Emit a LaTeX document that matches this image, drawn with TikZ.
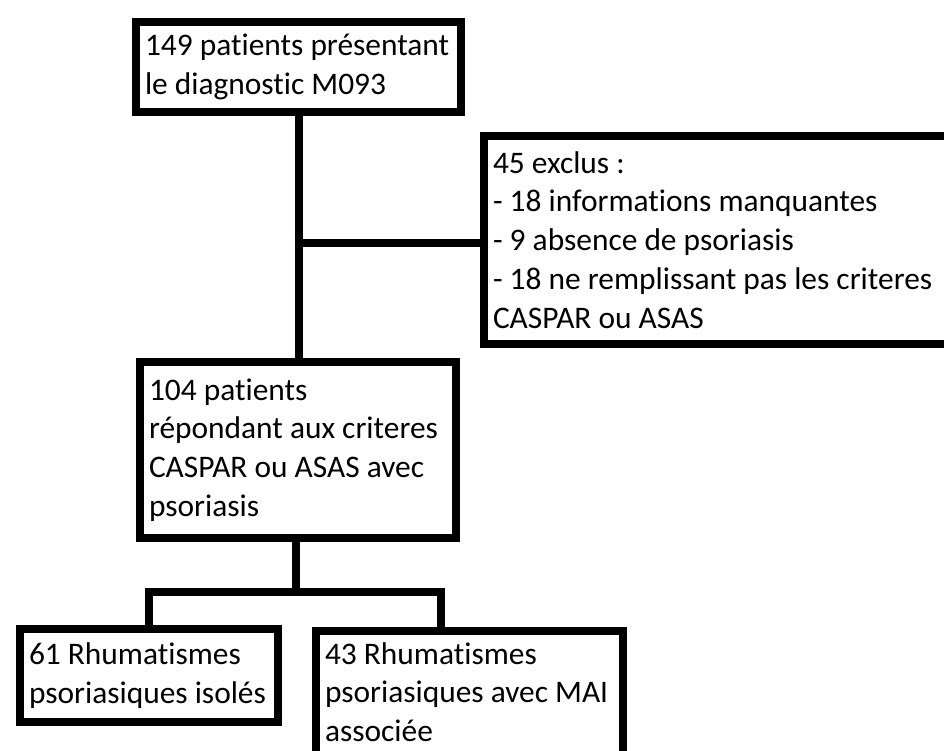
\documentclass[tikz,border=0pt]{standalone}
\usepackage{fontspec}
\setmainfont{Carlito}[Ligatures=NoCommon]
\tikzset{
  box/.style={draw, line width=8pt, anchor=north west, align=flush left,
    inner xsep=9pt, inner ysep=4pt,
    font=\fontsize{31.4}{38.8}\selectfont},
  link/.style={line width=8pt}
}
\begin{document}
\begin{tikzpicture}[x=1pt,y=-1pt]
  \useasboundingbox (0,0) rectangle (944,751);
  \clip (0,0) rectangle (944,751);
  \node[box, text width=307pt, minimum height=90pt] (diag) at (132,18)
    {149 patients présentant\\le diagnostic M093};
  \node[box, text width=480pt, minimum height=208pt] (excl) at (480,132)
    {45 exclus :\\- 18 informations manquantes\\- 9 absence de psoriasis\\- 18 ne remplissant pas les criteres\\CASPAR ou ASAS};
  \node[box, text width=298pt, minimum height=176pt] (retenus) at (136,358)
    {104 patients\\répondant aux criteres\\CASPAR ou ASAS avec\\psoriasis};
  \node[box, text width=240pt, minimum height=93pt] (isoles) at (16,625)
    {61 Rhumatismes\\psoriasiques isolés};
  \node[box, text width=289pt, text height=29pt, text depth=120pt] (mai) at (312,627)
    {43 Rhumatismes\\psoriasiques avec MAI\\associée};
  \coordinate (split) at (294.5,243);
  \coordinate (fork) at (296,592);
  \coordinate (forkL) at (149,592);
  \coordinate (forkR) at (441,592);
  \draw[link] (diag.south) -- (diag.south |- retenus.north);
  \draw[link] (split) -- (split -| excl.west);
  \draw[link] (fork |- retenus.south) -- (fork);
  \draw[link] (forkL |- isoles.north) -- (forkL) -- (forkR) -- (forkR |- mai.north);
\end{tikzpicture}
\end{document}
